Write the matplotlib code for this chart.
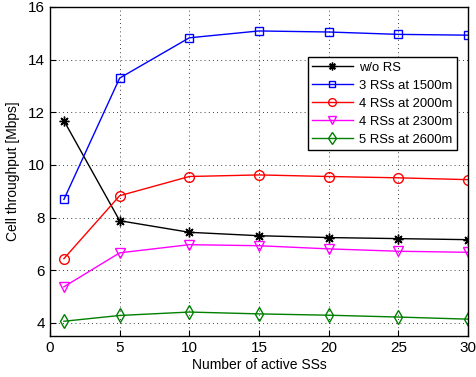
import matplotlib
matplotlib.use("Agg")
import matplotlib.pyplot as plt

plt.rcParams['font.family'] = ['Liberation Sans', 'DejaVu Sans']

# Data.
num_ss = [1, 5, 10, 15, 20, 25, 30]
no_rs = [11.68, 7.88, 7.44, 7.31, 7.24, 7.20, 7.16]
rs3_1500 = [8.69, 13.30, 14.83, 15.09, 15.05, 14.96, 14.93]
rs4_2000 = [6.44, 8.83, 9.56, 9.62, 9.56, 9.51, 9.44]
rs4_2300 = [5.37, 6.66, 6.97, 6.93, 6.81, 6.72, 6.68]
rs5_2600 = [4.06, 4.28, 4.41, 4.34, 4.29, 4.22, 4.14]

labels = ["w/o RS", "3 RSs at 1500m", "4 RSs at 2000m",
          "4 RSs at 2300m", "5 RSs at 2600m"]
series = [no_rs, rs3_1500, rs4_2000, rs4_2300, rs5_2600]
colours = ['k', 'b', 'r', '#ff00ff', (0.0, 0.5, 0.0)]
markers = [(8, 2, 0), 's', 'o', 'v', 'd']
sizes = [7, 6, 7, 7, 7.5]

fig = plt.figure(figsize=(4.76, 3.77), dpi=100)
ax = fig.add_axes([50 / 476, 1 - 336 / 377, 418 / 476, 329 / 377])

for y, l, c, m, s in zip(series, labels, colours, markers, sizes):
    ax.plot(num_ss, y, color=c, marker=m, markersize=s, label=l,
            markerfacecolor='none', markeredgecolor=c,
            markeredgewidth=1.0, linewidth=1.0)

ax.set_xlim(0, 30)
ax.set_ylim(3.5, 16)
ax.set_xticks([0, 5, 10, 15, 20, 25, 30])
ax.set_yticks([4, 6, 8, 10, 12, 14, 16])
ax.tick_params(direction='in', labelsize=11, length=4)
ax.grid(color='k', linestyle=(0, (1, 4)), linewidth=0.6)
for sp in ax.spines.values():
    sp.set_linewidth(1.0)

ax.set_xlabel("Number of active SSs", fontsize=10, labelpad=2)
ax.set_ylabel("Cell throughput [Mbps]", fontsize=10, labelpad=6)

legend = ax.legend(loc='upper right', bbox_to_anchor=(0.974, 0.848),
                   borderaxespad=0.0,
                   fontsize=9.4, fancybox=False, framealpha=1,
                   handlelength=3.1, handletextpad=0.5,
                   borderpad=0.35, labelspacing=0.45,
                   markerscale=0.8)
legend.get_frame().set_edgecolor('k')
legend.get_frame().set_linewidth(1.0)

fig.savefig("out.png", dpi=100)
